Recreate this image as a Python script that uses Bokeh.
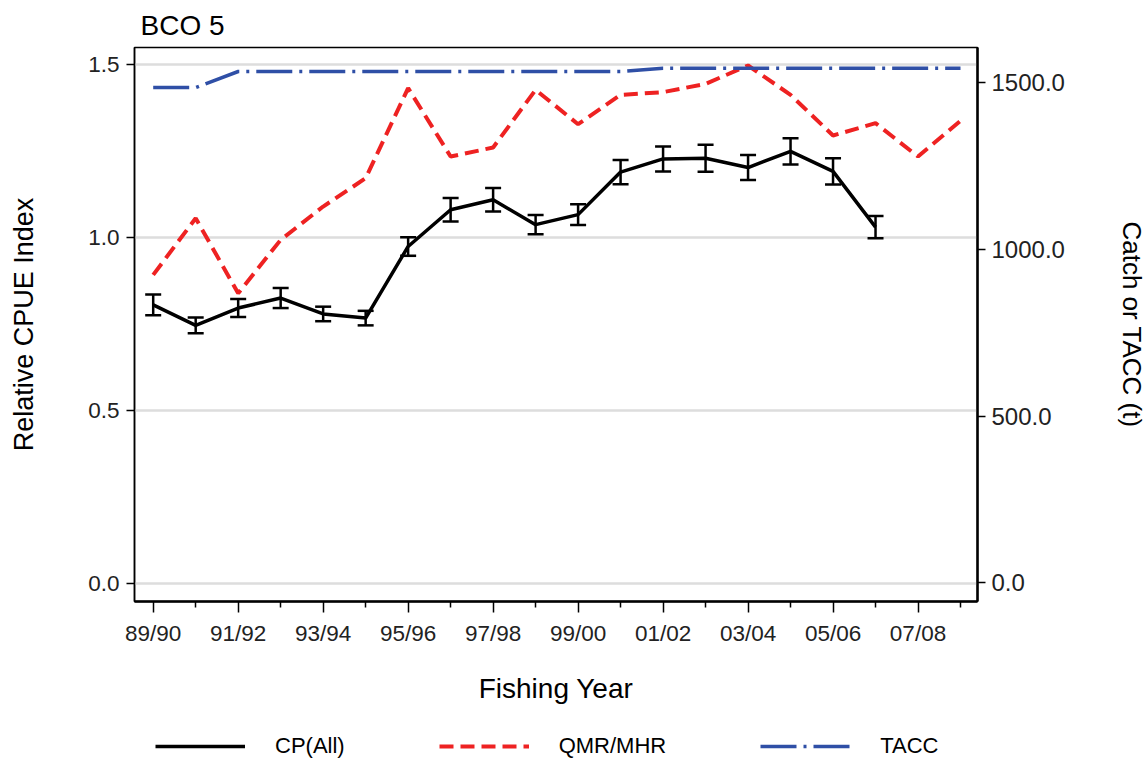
from bokeh.plotting import figure
from bokeh.layouts import column
from bokeh.models import (Range1d, LinearAxis, FixedTicker, PrintfTickFormatter,
                          Whisker, TeeHead, ColumnDataSource, Legend, LegendItem)
from bokeh.embed import file_html
from bokeh.resources import INLINE

# ---- data ----
years = list(range(20))  # 0 = 89/90 ... 19 = 08/09
tick_positions = [0, 2, 4, 6, 8, 10, 12, 14, 16, 18]
tick_labels = ["89/90", "91/92", "93/94", "95/96", "97/98", "99/00",
               "01/02", "03/04", "05/06", "07/08"]
minor_positions = [1, 3, 5, 7, 9, 11, 13, 15, 17, 19]

cpue_years = list(range(18))
cpue = [0.805, 0.746, 0.796, 0.825, 0.779, 0.767, 0.974, 1.080, 1.109,
        1.037, 1.066, 1.189, 1.227, 1.229, 1.202, 1.249, 1.191, 1.030]
cpue_lower = [0.775, 0.723, 0.770, 0.796, 0.758, 0.746, 0.947, 1.046, 1.075,
              1.009, 1.036, 1.154, 1.191, 1.190, 1.166, 1.211, 1.153, 0.998]
cpue_upper = [0.835, 0.769, 0.822, 0.854, 0.800, 0.788, 1.001, 1.114, 1.143,
              1.065, 1.096, 1.224, 1.263, 1.268, 1.238, 1.287, 1.229, 1.062]

qmr = [924, 1094, 869, 1029, 1129, 1214, 1484, 1279, 1306, 1479,
       1376, 1464, 1472, 1497, 1552, 1464, 1342, 1379, 1279, 1386]
tacc = [1486, 1486, 1534, 1534, 1534, 1534, 1534, 1534, 1534, 1534,
        1534, 1534, 1544, 1544, 1544, 1544, 1544, 1544, 1544, 1544]

legend_labels = ["CP(All)", "QMR/MHR", "TACC"]

FONT = "Liberation Sans"
TICK_FS = "22.5px"
BLACK_STYLE = dict(line_color="black", line_width=3.5)
RED_STYLE = dict(line_color="#ee2222", line_width=4, line_dash="14 7")
BLUE_STYLE = dict(line_color="#2f4fa6", line_width=3.5, line_dash="36 7 3 7")

TOTAL_W = 134 + 843 + 168

p = figure(frame_width=843, frame_height=554,
           x_range=Range1d(-0.44, 19.40), y_range=Range1d(-0.052, 1.549),
           output_backend="svg", toolbar_location=None,
           min_border_left=134, min_border_right=168,
           min_border_top=46, min_border_bottom=112)
p.extra_y_ranges = {"catch": Range1d(-55.5, 1606)}

p.background_fill_color = "white"
p.border_fill_color = "white"
p.outline_line_color = "black"
p.outline_line_width = 1.5

# title
p.title.text = "BCO 5"
p.title.text_font = FONT
p.title.text_font_size = "28px"
p.title.text_font_style = "normal"
p.title.text_color = "black"
p.title.align = "left"
p.title.offset = 6
p.title.standoff = 14

# grid
p.xgrid.visible = False
p.ygrid.ticker = FixedTicker(ticks=[0.0, 0.5, 1.0, 1.5])
p.ygrid.grid_line_color = "#dddddd"
p.ygrid.grid_line_width = 2.5

# x axis
xa = p.xaxis[0]
xa.ticker = FixedTicker(ticks=tick_positions, minor_ticks=minor_positions)
xa.major_label_overrides = {t: l for t, l in zip(tick_positions, tick_labels)}
xa.axis_label = "Fishing Year"
xa.axis_label_text_font = FONT
xa.axis_label_text_font_size = "28px"
xa.axis_label_text_font_style = "normal"
xa.axis_label_text_color = "black"
xa.axis_label_standoff = 24
xa.major_label_text_font = FONT
xa.major_label_text_font_size = TICK_FS
xa.major_label_text_color = "#222222"
xa.major_label_standoff = 8
xa.major_tick_out = 11
xa.major_tick_in = 0
xa.minor_tick_out = 6
xa.minor_tick_in = 0
xa.axis_line_width = 2.5
xa.major_tick_line_width = 1.5
xa.minor_tick_line_width = 1.5

# left axis
ya = p.yaxis[0]
ya.ticker = FixedTicker(ticks=[0.0, 0.5, 1.0, 1.5])
ya.formatter = PrintfTickFormatter(format="%.1f")
ya.axis_label = "Relative CPUE Index"
ya.axis_label_text_font = FONT
ya.axis_label_text_font_size = "27px"
ya.axis_label_text_font_style = "normal"
ya.axis_label_text_color = "black"
ya.axis_label_standoff = 46
ya.major_label_text_font = FONT
ya.major_label_text_font_size = TICK_FS
ya.major_label_text_color = "#222222"
ya.major_label_standoff = 7
ya.major_tick_out = 8
ya.major_tick_in = 0
ya.minor_tick_line_color = None
ya.axis_line_width = 1.5
ya.major_tick_line_width = 1.5

# right axis
ra = LinearAxis(y_range_name="catch",
                ticker=FixedTicker(ticks=[0, 500, 1000, 1500]),
                formatter=PrintfTickFormatter(format="%.1f"))
ra.axis_label = "Catch or TACC (t)"
ra.axis_label_text_font = FONT
ra.axis_label_text_font_size = "26px"
ra.axis_label_text_font_style = "normal"
ra.axis_label_text_color = "black"
ra.axis_label_standoff = 49
ra.major_label_text_font = FONT
ra.major_label_text_font_size = "24px"
ra.major_label_text_color = "#222222"
ra.major_label_standoff = 6
ra.major_tick_out = 8
ra.major_tick_in = 0
ra.minor_tick_line_color = None
ra.axis_line_width = 2.5
ra.major_tick_line_width = 1.5
p.add_layout(ra, "right")

# ---- glyphs ----
p.line(years, qmr, y_range_name="catch", **RED_STYLE)
p.line(years, tacc, y_range_name="catch", **BLUE_STYLE)

src = ColumnDataSource(dict(x=cpue_years, y=cpue, lo=cpue_lower, hi=cpue_upper))
p.line("x", "y", source=src, **BLACK_STYLE)
w = Whisker(source=src, base="x", lower="lo", upper="hi",
            line_color="black", line_width=2.5,
            upper_head=TeeHead(size=16, line_width=2.5, line_color="black"),
            lower_head=TeeHead(size=16, line_width=2.5, line_color="black"))
p.add_layout(w)

# ---- legend strip (separate figure below, so it is not clipped) ----
# Its ranges lie away from the data, so the proxy series only feed the legend keys.
lf = figure(width=TOTAL_W, height=48,
            x_range=Range1d(-200, -199), y_range=Range1d(-200, -199),
            output_backend="svg", toolbar_location=None,
            x_axis_location=None, y_axis_location=None,
            min_border_left=134, min_border_right=168,
            min_border_top=0, min_border_bottom=0, outline_line_color=None)
lf.xgrid.visible = False
lf.ygrid.visible = False
r_black = lf.line(cpue_years, cpue, **BLACK_STYLE)
r_red = lf.line(years, qmr, **RED_STYLE)
r_blue = lf.line(years, tacc, **BLUE_STYLE)

legend = Legend(items=[LegendItem(label=legend_labels[0], renderers=[r_black]),
                       LegendItem(label=legend_labels[1], renderers=[r_red]),
                       LegendItem(label=legend_labels[2], renderers=[r_blue])],
                location=(21, 2), orientation="horizontal",
                glyph_width=90, glyph_height=20, label_height=20,
                label_standoff=30, padding=0, margin=0, spacing=94,
                border_line_color=None, background_fill_alpha=0,
                label_text_font=FONT, label_text_font_size="22px",
                label_text_color="black")
lf.add_layout(legend, "center")

layout = column(p, lf, spacing=0)
open("out.html", "w").write(file_html(layout, INLINE))
